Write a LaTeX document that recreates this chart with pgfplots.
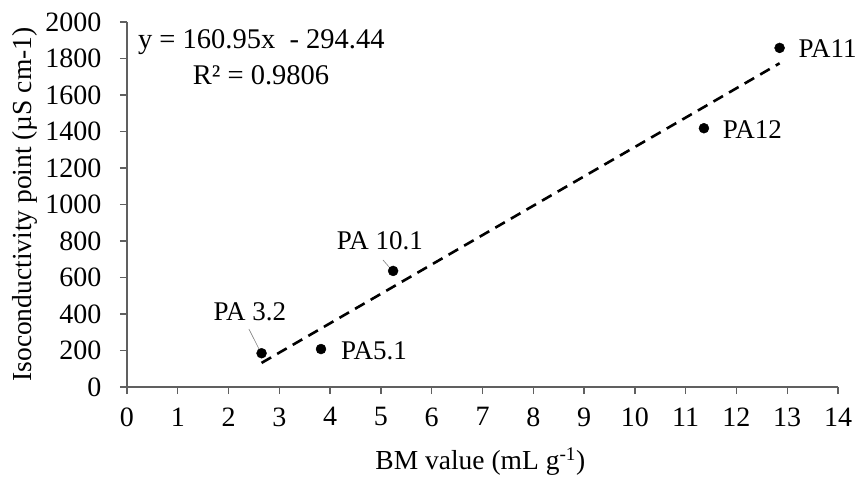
\documentclass[border=0pt]{standalone}
\usepackage{pgfplots}
\pgfplotsset{compat=1.18}
\usepackage{fontspec}
\setmainfont{Liberation Serif}
\begin{document}
\begin{tikzpicture}
\begin{axis}[
  scale only axis, width=711pt, height=365pt,
  xmin=0, xmax=14, ymin=0, ymax=2000,
  axis x line*=bottom, axis y line*=left,
  axis line style={draw=gray!75!black, line width=1.3pt},
  xtick={0,1,...,14}, ytick={0,200,...,2000},
  tick align=outside, major tick length=7pt,
  tick style={draw=gray!75!black, line width=1.3pt},
  /pgf/number format/assume math mode=true,
  /pgf/number format/1000 sep={},
  xticklabel style={font=\fontsize{28}{28}\selectfont, text=black, yshift=-10pt},
  yticklabel style={font=\fontsize{28}{28}\selectfont, text=black, xshift=-15pt},
  ylabel={Isoconductivity point (µS cm-1)},
  ylabel style={font=\fontsize{27.5}{28}\selectfont, at={(axis description cs:-0.1435,0.5)}, anchor=center},
  xlabel={BM value (mL g\textsuperscript{-1})},
  xlabel style={font=\fontsize{27.5}{28}\selectfont, at={(axis description cs:0.497,-0.205)}, anchor=center},
  clip=false,
]
\addplot[black, line width=2.6pt, dash pattern=on 11pt off 7pt] coordinates {(2.65,132.08) (12.85,1773.77)};
\addplot[only marks, mark=*, mark size=5pt, mark options={fill=black, draw=black}] coordinates {
(2.65,185) (3.82,208) (5.24,636) (11.36,1418) (12.85,1858)};
\draw[gray, line width=0.6pt] (axis cs:2.40,318) -- (axis cs:2.60,208);
\draw[gray, line width=0.6pt] (axis cs:5.04,696) -- (axis cs:5.16,658);
\begin{scope}[every node/.style={font=\fontsize{27}{27}\selectfont, inner sep=0pt}]
\node[anchor=base west] at (axis cs:13.22,1808) {PA11};
\node[anchor=base west] at (axis cs:11.73,1364) {PA12};
\node[anchor=base west] at (axis cs:4.21,148) {PA5.1};
\node[anchor=base] at (axis cs:4.98,751) {PA 10.1};
\node[anchor=base] at (axis cs:2.42,367) {PA 3.2};
\end{scope}
\begin{scope}[every node/.style={font=\fontsize{28.5}{28.5}\selectfont, inner sep=0pt}]
\node[anchor=base] at (axis cs:2.645,1855) {y = 160.95x\ \ - 294.44};
\node[anchor=base] at (axis cs:2.64,1660) {R² = 0.9806};
\end{scope}
\end{axis}
\pgfresetboundingbox
\path[use as bounding box] ([shift={(-127pt,-95pt)}]current axis.south west) rectangle ([shift={(23pt,22pt)}]current axis.north east);
\end{tikzpicture}
\end{document}
